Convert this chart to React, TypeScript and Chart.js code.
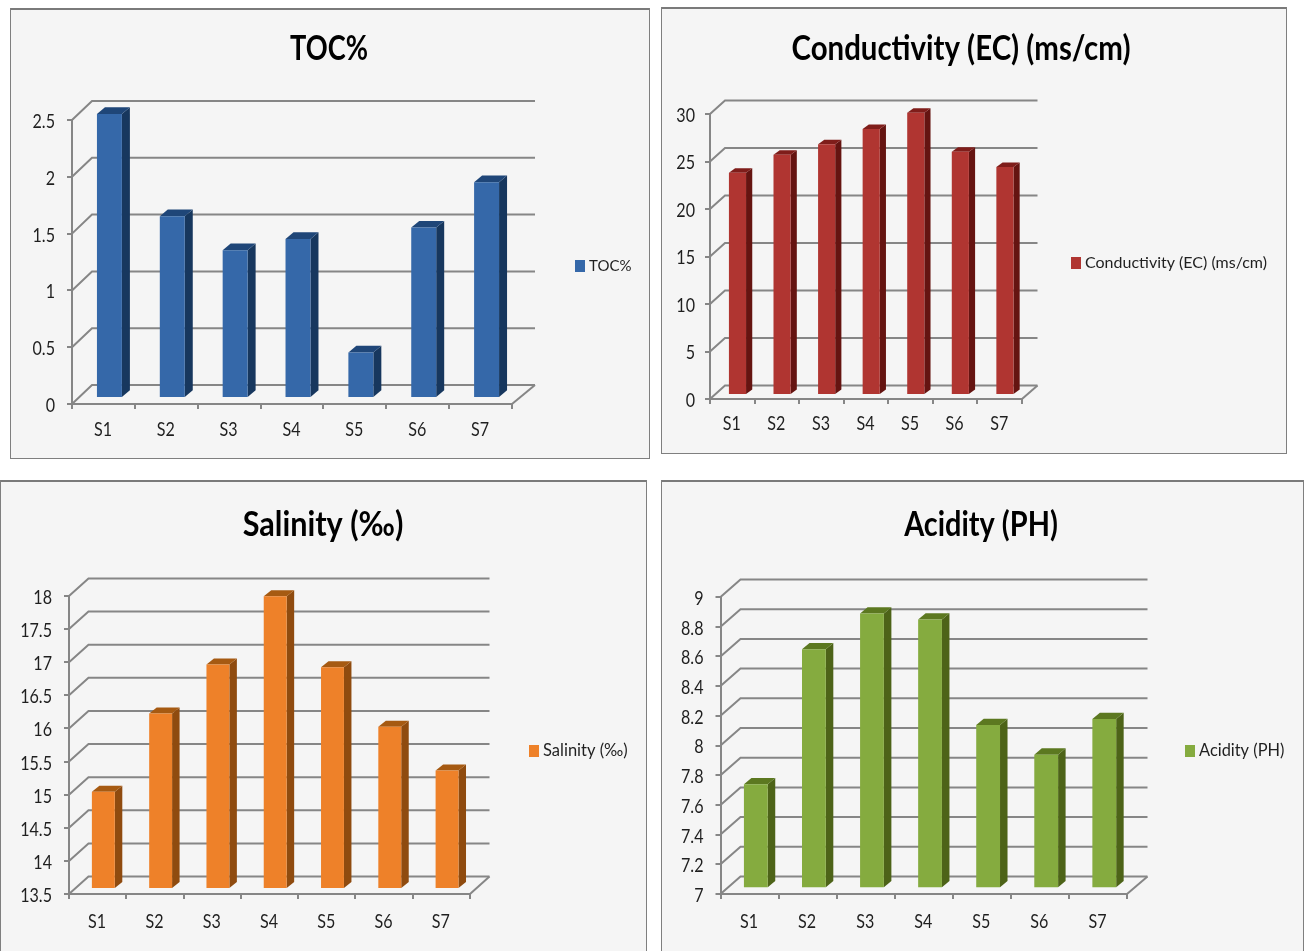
import React, { useEffect, useRef } from "react";
import { Chart, registerables } from "chart.js";

Chart.register(...registerables);

const sites = ["S1", "S2", "S3", "S4", "S5", "S6", "S7"];
const tocValues = [2.5, 1.6, 1.3, 1.4, 0.4, 1.5, 1.9];
const conductivityValues = [23.4, 25.3, 26.4, 28.0, 29.7, 25.6, 24.0];
const salinityValues = [14.97, 16.15, 16.89, 17.92, 16.85, 15.95, 15.29];
const acidityValues = [7.7, 8.61, 8.85, 8.81, 8.1, 7.9, 8.14];

const FONT = "Lato";
const GRID = "#868686";
const INK = "#1F1F1F";
const TICK_SIZE = 18.5;
const TICK_SQUEEZE = 0.87;

const panels = [
  {
    title: "TOC%", values: tocValues, min: 0, max: 2.5, step: 0.5,
    front: "#3568A9", side: "#17375E", top: "#1F4678",
    box: { x: 10, y: 8, w: 640, h: 451 },
    axis: { l: 72, r: 512, t: 120, b: 404 },
    wall: { l: 20, r: 23, d: 19 },
    bar: { pct: 0.397, sx: 6, sy: 6, dx: 8, dy: 6.7 },
    titleAt: { x: 329, y: 49 }, titleSqueeze: 0.8,
    legendAt: { x: 575, y: 266 }, legendSize: 15,
    yGap: 17, xDrop: 26,
  },
  {
    title: "Conductivity (EC) (ms/cm)", values: conductivityValues, min: 0, max: 30, step: 5,
    front: "#B03531", side: "#651411", top: "#7F1D1A",
    box: { x: 661, y: 7, w: 626, h: 447 },
    axis: { l: 710, r: 1022, t: 114, b: 399 },
    wall: { l: 15, r: 15.5, d: 13.5 },
    bar: { pct: 0.384, sx: 5.2, sy: 4, dx: 6.2, dy: 4.5 },
    titleAt: { x: 961, y: 49 }, titleSqueeze: 0.865,
    legendAt: { x: 1071, y: 263 }, legendSize: 16,
    yGap: 15, xDrop: 25,
  },
  {
    title: "Salinity (‰)", values: salinityValues, min: 13.5, max: 18, step: 0.5,
    front: "#EE8129", side: "#8F4B0F", top: "#A65A12",
    box: { x: 0, y: 480, w: 647, h: 471 },
    axis: { l: 69, r: 470, t: 596, b: 894 },
    wall: { l: 19.5, r: 19.5, d: 17.5 },
    bar: { pct: 0.4, sx: 5.7, sy: 5, dx: 7.5, dy: 6 },
    titleAt: { x: 323, y: 525 }, titleSqueeze: 0.9,
    legendAt: { x: 529, y: 751 }, legendSize: 16.5,
    yGap: 17, xDrop: 28.5,
  },
  {
    title: "Acidity (PH)", values: acidityValues, min: 7, max: 9, step: 0.2,
    front: "#85AB3F", side: "#4D6318", top: "#5C7820",
    box: { x: 661, y: 480, w: 643, h: 471 },
    axis: { l: 720.5, r: 1127, t: 597, b: 894 },
    wall: { l: 20, r: 20.5, d: 17.5 },
    bar: { pct: 0.41, sx: 6.3, sy: 5.7, dx: 7.5, dy: 6.3 },
    titleAt: { x: 981, y: 525 }, titleSqueeze: 0.85,
    legendAt: { x: 1185, y: 751 }, legendSize: 16.4,
    yGap: 17, xDrop: 28,
  },
];

type PanelSpec = (typeof panels)[number];

// Draws the side wall, back wall and floor lines, then gives each bar its depth faces.
function depthPlugin(p: PanelSpec) {
  return {
    id: "depth3d",
    beforeDatasetsDraw(chart: any) {
      const { ctx, chartArea, scales } = chart;
      ctx.save();
      ctx.strokeStyle = GRID;
      ctx.lineWidth = 2;
      for (const tick of scales.y.ticks) {
        const y = scales.y.getPixelForValue(tick.value);
        ctx.beginPath();
        ctx.moveTo(chartArea.left, y);
        ctx.lineTo(chartArea.left + p.wall.l, y - p.wall.d);
        ctx.lineTo(chartArea.right + p.wall.r, y - p.wall.d);
        ctx.stroke();
      }
      ctx.beginPath();
      ctx.moveTo(chartArea.right, chartArea.bottom);
      ctx.lineTo(chartArea.right + p.wall.r, chartArea.bottom - p.wall.d);
      ctx.stroke();
      ctx.restore();
    },
    beforeDatasetDraw(chart: any, args: any) {
      const { ctx } = chart;
      ctx.save();
      ctx.translate(p.bar.sx, -p.bar.sy);
      for (const el of args.meta.data) {
        const { x, y, base, width } = el;
        const l = x - width / 2;
        const r = x + width / 2;
        ctx.fillStyle = p.side;
        ctx.beginPath();
        ctx.moveTo(r, y);
        ctx.lineTo(r + p.bar.dx, y - p.bar.dy);
        ctx.lineTo(r + p.bar.dx, base - p.bar.dy);
        ctx.lineTo(r, base);
        ctx.closePath();
        ctx.fill();
        ctx.fillStyle = p.top;
        ctx.beginPath();
        ctx.moveTo(l, y);
        ctx.lineTo(l + p.bar.dx, y - p.bar.dy);
        ctx.lineTo(r + p.bar.dx, y - p.bar.dy);
        ctx.lineTo(r, y);
        ctx.closePath();
        ctx.fill();
      }
    },
    afterDatasetDraw(chart: any) {
      chart.ctx.restore();
    },
  };
}

// Writes one string narrowed horizontally around its anchor point.
function narrowText(ctx: any, text: string, x: number, y: number, squeeze: number) {
  ctx.save();
  ctx.translate(x, y);
  ctx.scale(squeeze, 1);
  ctx.fillText(text, 0, 0);
  ctx.restore();
}

// Tick labels in a condensed cut, title and right-hand legend at fixed spots.
function captionPlugin(p: PanelSpec) {
  return {
    id: "captions",
    afterDraw(chart: any) {
      const { ctx, chartArea, scales } = chart;
      const ox = p.box.x;
      const oy = p.box.y;
      ctx.save();
      ctx.textBaseline = "middle";

      ctx.fillStyle = INK;
      ctx.font = `${TICK_SIZE}px ${FONT}`;
      ctx.textAlign = "right";
      scales.y.ticks.forEach((tick: any, i: number) => {
        narrowText(ctx, tick.label, chartArea.left - p.yGap, scales.y.getPixelForTick(i) + 2, TICK_SQUEEZE);
      });
      ctx.textAlign = "center";
      scales.x.ticks.forEach((tick: any, i: number) => {
        narrowText(ctx, tick.label, scales.x.getPixelForTick(i) - 0.5, chartArea.bottom + p.xDrop, TICK_SQUEEZE);
      });

      ctx.fillStyle = "#000000";
      ctx.font = `bold 34px ${FONT}`;
      narrowText(ctx, p.title, p.titleAt.x - ox, p.titleAt.y - oy, p.titleSqueeze);

      ctx.fillStyle = p.front;
      ctx.fillRect(p.legendAt.x - ox, p.legendAt.y - oy - 6, 10, 12);
      ctx.fillStyle = INK;
      ctx.textAlign = "left";
      ctx.font = `${p.legendSize}px ${FONT}`;
      ctx.fillText(chart.data.datasets[0].label, p.legendAt.x - ox + 14, p.legendAt.y - oy);
      ctx.restore();
    },
  };
}

function Panel({ spec }: { spec: PanelSpec }) {
  const ref = useRef<HTMLCanvasElement>(null);
  useEffect(() => {
    const { box, axis } = spec;
    const yWidth = 50;
    const xHeight = 40;
    const chart = new Chart(ref.current!, {
      type: "bar",
      data: {
        labels: sites,
        datasets: [
          {
            label: spec.title,
            data: spec.values,
            base: spec.min,
            backgroundColor: spec.front,
            barPercentage: spec.bar.pct,
            categoryPercentage: 1,
            clip: false,
          } as any,
        ],
      },
      options: {
        animation: false,
        responsive: false,
        layout: {
          padding: {
            left: axis.l - box.x - yWidth,
            right: box.x + box.w - axis.r,
            top: axis.t - box.y,
            bottom: box.y + box.h - axis.b - xHeight,
          },
        },
        plugins: { legend: { display: false }, title: { display: false }, tooltip: { enabled: false } },
        scales: {
          x: {
            afterFit: (s: any) => { s.height = xHeight; },
            grid: { drawOnChartArea: false, color: GRID, lineWidth: 2, tickLength: 5, offset: true },
            border: { color: GRID, width: 2 },
            ticks: { display: false },
          },
          y: {
            min: spec.min,
            max: spec.max,
            afterFit: (s: any) => { s.width = yWidth; },
            grid: { drawOnChartArea: false, color: GRID, lineWidth: 2, tickLength: 5 },
            border: { color: GRID, width: 2 },
            ticks: {
              display: false,
              stepSize: spec.step,
              callback: (v: any) => String(Number(Number(v).toFixed(2))),
            },
          },
        },
      } as any,
      plugins: [depthPlugin(spec), captionPlugin(spec)] as any,
    });
    return () => chart.destroy();
  }, [spec]);
  const { box } = spec;
  const open = box.y + box.h >= 951;
  return (
    <div
      style={{
        position: "absolute",
        left: box.x,
        top: box.y,
        width: box.w,
        height: box.h,
        background: "#F5F5F5",
      }}
    >
      <canvas ref={ref} width={box.w} height={box.h} style={{ display: "block", position: "absolute", left: 0, top: 0 }} />
      <div style={{ position: "absolute", left: 0, top: 0, right: 0, height: 2, background: "#7A7A7A" }} />
      <div style={{ position: "absolute", left: 0, top: 0, bottom: 0, width: 1, background: "#7F7F7F" }} />
      <div style={{ position: "absolute", right: 0, top: 0, bottom: 0, width: 1, background: "#7F7F7F" }} />
      {!open && <div style={{ position: "absolute", left: 0, right: 0, bottom: 0, height: 1, background: "#7F7F7F" }} />}
    </div>
  );
}

export default function App() {
  return (
    <div style={{ position: "absolute", left: 0, top: 0, width: 1309, height: 951, overflow: "hidden", background: "#FFFFFF" }}>
      {panels.map((p) => (
        <Panel key={p.title} spec={p} />
      ))}
    </div>
  );
}
